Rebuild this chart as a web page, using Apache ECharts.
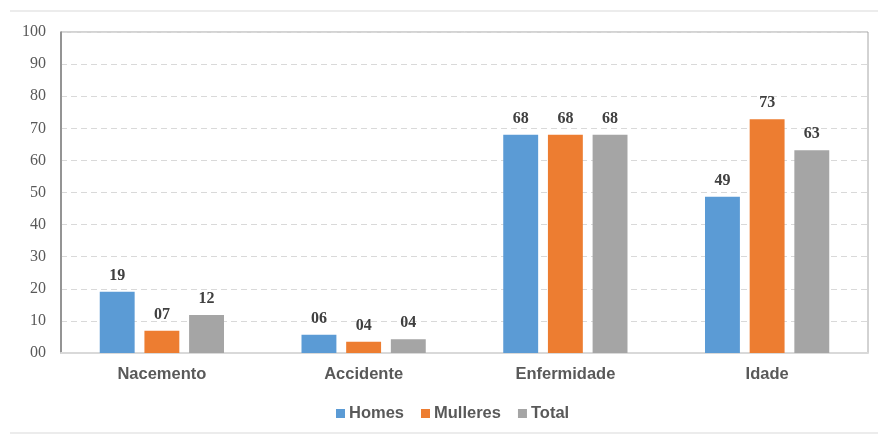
<!DOCTYPE html>
<html><head><meta charset="utf-8">
<script src="https://cdn.jsdelivr.net/npm/echarts@6/dist/echarts.min.js"></script>
<style>html,body{margin:0;padding:0;background:#fff}#c{width:878px;height:437px}</style>
</head><body><div id="c"></div>
<script>
const categories = ['Nacemento', 'Accidente', 'Enfermidade', 'Idade'];
const homes = [19.1, 5.7, 68, 48.7];
const mulleres = [6.9, 3.5, 68, 72.8];
const total = [11.8, 4.3, 68, 63.2];
const yTicks = [0, 10, 20, 30, 40, 50, 60, 70, 80, 90, 100];

const pad2 = v => String(Math.round(v)).padStart(2, '0');
const labelCfg = {
  show: true, position: 'top', distance: 8,
  fontFamily: '"Liberation Serif", "Times New Roman", serif',
  fontWeight: 'bold', fontSize: 16, color: '#404040',
  formatter: p => pad2(p.value)
};
function mk(name, data, color) {
  return { name, type: 'bar', data, barWidth: '17.3%', barGap: '28%',
    itemStyle: { color }, label: labelCfg };
}
const chart = echarts.init(document.getElementById('c'));
chart.setOption({
  animation: false,
  grid: { left: 61, right: 10, top: 32, bottom: 84, show: true, borderColor: '#a6a6a6', borderWidth: 1 },
  legend: {
    top: 400, left: 331, itemWidth: 9, itemHeight: 9, itemGap: 17,
    icon: 'rect',
    textStyle: { fontFamily: '"Liberation Sans", Arial, sans-serif', fontWeight: 'bold', fontSize: 16.5, color: '#595959', padding: [0,0,0,-1] },
    data: ['Homes', 'Mulleres', 'Total']
  },
  xAxis: {
    type: 'category', data: categories,
    axisLine: { lineStyle: { color: '#d9d9d9', width: 2 } },
    axisTick: { show: false },
    axisLabel: { fontFamily: '"Liberation Sans", Arial, sans-serif', fontWeight: 'bold', fontSize: 16.5, color: '#595959', margin: 13 }
  },
  yAxis: {
    type: 'value', min: yTicks[0], max: yTicks[yTicks.length - 1], interval: 10,
    axisLine: { show: true, lineStyle: { color: '#7f7f7f', width: 1.5 } },
    axisTick: { show: false },
    splitLine: { lineStyle: { color: '#d9d9d9', type: [6, 4] } },
    axisLabel: { fontFamily: '"Liberation Serif", "Times New Roman", serif', fontSize: 16, color: '#595959', margin: 15, formatter: v => pad2(v) }
  },
  graphic: [
    { type: 'line', shape: { x1: 10, y1: 11, x2: 878, y2: 11 }, style: { stroke: '#d9d9d9', lineWidth: 1 } },
    { type: 'line', shape: { x1: 10, y1: 433, x2: 878, y2: 433 }, style: { stroke: '#d9d9d9', lineWidth: 1 } }
  ],
  series: [
    mk('Homes', homes, '#5b9bd5'),
    mk('Mulleres', mulleres, '#ed7d31'),
    mk('Total', total, '#a5a5a5')
  ]
});
</script></body></html>
